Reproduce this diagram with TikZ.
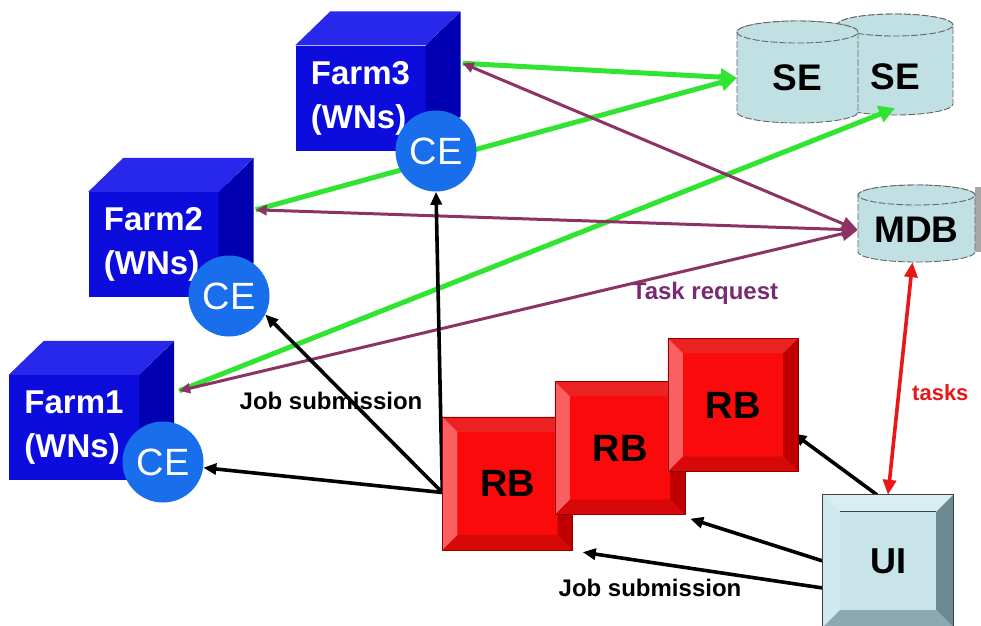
\documentclass[tikz,border=0pt]{standalone}
\usepackage{fontspec}
\setmainfont{Liberation Sans}
\usetikzlibrary{arrows.meta,calc}
\pgfdeclarelayer{back}
\pgfdeclarelayer{lines}
\pgfsetlayers{back,lines,main}

\definecolor{farmfront}{RGB}{12,12,220}
\definecolor{farmtop}{RGB}{40,40,236}
\definecolor{farmside}{RGB}{0,0,178}
\definecolor{cefill}{RGB}{25,110,235}
\definecolor{cylfill}{RGB}{192,224,228}
\definecolor{rbface}{RGB}{250,10,10}
\definecolor{rbtop}{RGB}{236,34,34}
\definecolor{rbleft}{RGB}{250,96,96}
\definecolor{rbright}{RGB}{192,0,0}
\definecolor{rbbottom}{RGB}{214,8,8}
\definecolor{uiface}{RGB}{200,228,234}
\definecolor{uitop}{RGB}{216,238,242}
\definecolor{uileft}{RGB}{208,232,238}
\definecolor{uiright}{RGB}{108,136,144}
\definecolor{uibottom}{RGB}{140,168,176}
\definecolor{linkgreen}{RGB}{50,228,50}
\definecolor{linkmaroon}{RGB}{140,50,100}
\definecolor{reqpurple}{RGB}{122,42,112}
\definecolor{taskred}{RGB}{232,24,24}

% top and side faces of a farm cube, hung on the front-face node
\newcommand\cubefaces[1]{%
  \fill[farmtop] (#1.north west) -- ++(35,-34) -- ++(130,0) -- (#1.north east) -- cycle;
  \fill[farmside] (#1.north east) -- ++(35,-34) -- ++(0,105) -- (#1.south east) -- cycle;}

% four bevel panels of a raised button: node, width, top, left, right, bottom
\newcommand\bevelpanels[6]{%
  \fill[#3] (#1.north west) -- (#1.north east) -- ([xshift=-#2pt,yshift=-#2pt]#1.north east)
     -- ([xshift=#2pt,yshift=-#2pt]#1.north west) -- cycle;
  \fill[#4] (#1.north west) -- ([xshift=#2pt,yshift=-#2pt]#1.north west)
     -- ([xshift=#2pt,yshift=#2pt]#1.south west) -- (#1.south west) -- cycle;
  \fill[#5] (#1.north east) -- ([xshift=-#2pt,yshift=-#2pt]#1.north east)
     -- ([xshift=-#2pt,yshift=#2pt]#1.south east) -- (#1.south east) -- cycle;
  \fill[#6] (#1.south west) -- ([xshift=#2pt,yshift=#2pt]#1.south west)
     -- ([xshift=-#2pt,yshift=#2pt]#1.south east) -- (#1.south east) -- cycle;}

% cylinder body: centre x, top y, bottom y, x radius, y radius
\newcommand\cylbody[5]{%
  \filldraw[cylline] ({#1-#4},#2) -- ({#1-#4},#3)
     arc[start angle=180,end angle=360,x radius=#4pt,y radius=#5pt]
     -- ({#1+#4},#2) arc[start angle=0,end angle=180,x radius=#4pt,y radius=#5pt] -- cycle;
  \draw[cylline] (#1,#2) ellipse[x radius=#4pt,y radius=#5pt];}

\begin{document}
\begin{tikzpicture}[x=1pt,y=-1pt,
  farm/.style={fill=farmfront, minimum width=130pt, minimum height=105pt, inner sep=0pt,
    text=white, align=left, font=\bfseries\fontsize{33}{44}\selectfont},
  ce/.style={circle, fill=cefill, minimum size=81pt, inner sep=0pt, text=white,
    font=\fontsize{38}{38}\selectfont},
  cylline/.style={draw=black!60, fill=cylfill, line width=0.9pt, dash pattern=on 7pt off 2pt},
  cyllabel/.style={inner sep=0pt, font=\bfseries\fontsize{37}{37}\selectfont},
  rb/.style={fill=rbface, minimum width=130pt, minimum height=133pt, inner sep=0pt,
    font=\bfseries\fontsize{38}{38}\selectfont},
  rbedge/.style={draw=red!55!black, line width=0.6pt},
  ui/.style={fill=uiface, minimum width=130pt, minimum height=132pt, inner sep=0pt,
    font=\bfseries\fontsize{36}{36}\selectfont},
  uiedge/.style={draw=black!75, line width=0.8pt},
  green link/.style={draw=linkgreen, line width=5pt, -{Triangle[length=16pt,width=17pt]}},
  maroon link/.style={draw=linkmaroon, line width=3pt,
    {Triangle[length=11pt,width=10pt]}-{Triangle[length=16pt,width=14pt]}},
  job/.style={draw=black, line width=3.6pt, -{Triangle[length=13pt,width=11pt]}},
  task link/.style={draw=taskred, line width=3.6pt,
    {Triangle[length=15pt,width=13pt]}-{Triangle[length=15pt,width=13pt]}},
  joblabel/.style={inner sep=0pt, font=\bfseries\fontsize{24}{24}\selectfont},
  reqlabel/.style={inner sep=0pt, text=reqpurple, font=\bfseries\fontsize{24}{24}\selectfont},
  tasklabel/.style={inner sep=0pt, text=taskred, font=\bfseries\fontsize{22}{22}\selectfont}]

\useasboundingbox (0,0) rectangle (981,625);

% ---------- storage and metadata databases ----------
\begin{pgfonlayer}{back}
  \fill[black!35] (975,187) rectangle (981,252);
  \cylbody{895}{25}{104}{58}{11}
  \node[cyllabel, minimum width=116pt, minimum height=76pt] (se2) at (895,77) {SE};
  \cylbody{797.5}{32}{112}{60.5}{11}
  \node[cyllabel, minimum width=121pt, minimum height=90pt] (se1) at (797.5,78) {SE};
  \cylbody{916.5}{195}{252}{58.5}{10}
  \node[cyllabel, minimum width=117pt, minimum height=64pt] (mdb) at (916.5,230) {MDB};
  \node[joblabel] (js1) at (331,401) {Job submission};
  \node[joblabel] (js2) at (650,588) {Job submission};
  \node[reqlabel] (treq) at (705,293) {Task request};
  \node[tasklabel, anchor=west] (tsk) at (912,393) {tasks};
\end{pgfonlayer}

% ---------- farms with their computing elements ----------
\node[farm] (f3) at (360.5,98) {Farm3\\(WNs)};
\cubefaces{f3}
\node[farm] (f2) at (153.5,244.5) {Farm2\\(WNs)};
\cubefaces{f2}
\node[farm] (f1) at (74,427.5) {Farm1\\(WNs)};
\cubefaces{f1}
\node[ce] (ce3) at (436,151) {CE};
\node[ce] (ce2) at (229,296) {CE};
\node[ce] (ce1) at (163,462) {CE};

\coordinate (f3p) at ([shift={(37pt,-18pt)}]f3.north east);
\coordinate (f2p) at ([shift={(37pt,-18pt)}]f2.north east);
\coordinate (f1p) at ([shift={(40pt,-16pt)}]f1.north east);

% ---------- resource brokers ----------
\node[rb] (rb1) at (507.5,483.5) {RB};
\bevelpanels{rb1}{15}{rbtop}{rbleft}{rbright}{rbbottom}
\draw[rbedge] (rb1.north west) rectangle (rb1.south east);
\node[rb] (rb2) at (620,448) {RB};
\bevelpanels{rb2}{15}{rbtop}{rbleft}{rbright}{rbbottom}
\draw[rbedge] (rb2.north west) rectangle (rb2.south east);
\node[rb] (rb3) at (733,405) {RB};
\bevelpanels{rb3}{15}{rbtop}{rbleft}{rbright}{rbbottom}
\draw[rbedge] (rb3.north west) rectangle (rb3.south east);

% ---------- user interface ----------
\node[ui] (ui) at (888,561) {UI};
\bevelpanels{ui}{17}{uitop}{uileft}{uiright}{uibottom}
\draw[uiedge] (ui.north west) rectangle (ui.south east);
\draw[uiedge, line width=1.2pt] ([xshift=17pt,yshift=-17pt]ui.north west) -- ([xshift=-17pt,yshift=-17pt]ui.north east);

% ---------- connectors ----------
\begin{pgfonlayer}{lines}
  \draw[green link] (f3p) -- (se1.west);
  \draw[green link] (f2p) -- (se1.west);
  \draw[green link] (f1p) -- ([yshift=7pt]se2.south);
  \draw[maroon link] (f3p) -- (mdb.west);
  \draw[maroon link] (f2p) -- (mdb.west);
  \draw[maroon link] (f1p) -- (mdb.west);
  \coordinate (rbsrc) at ([yshift=-9pt]rb1.west);
  \draw[job] (rbsrc) -- (ce3.south);
  \draw[job] (rbsrc) -- (ce2.-27);
  \draw[job] (rbsrc) -- (ce1.-8);
  \draw[job, shorten >=-6pt] ([xshift=-11pt]ui.north) -- (rb3.-26);
  \draw[job] (ui.west) -- ([xshift=5pt,yshift=-4pt]rb2.south east);
  \draw[job] ([yshift=-27pt]ui.west) -- ([xshift=10pt,yshift=-2pt]rb1.south east);
  \draw[task link] (ui.north) -- ([xshift=-4pt]mdb.south);
\end{pgfonlayer}
\end{tikzpicture}
\end{document}
